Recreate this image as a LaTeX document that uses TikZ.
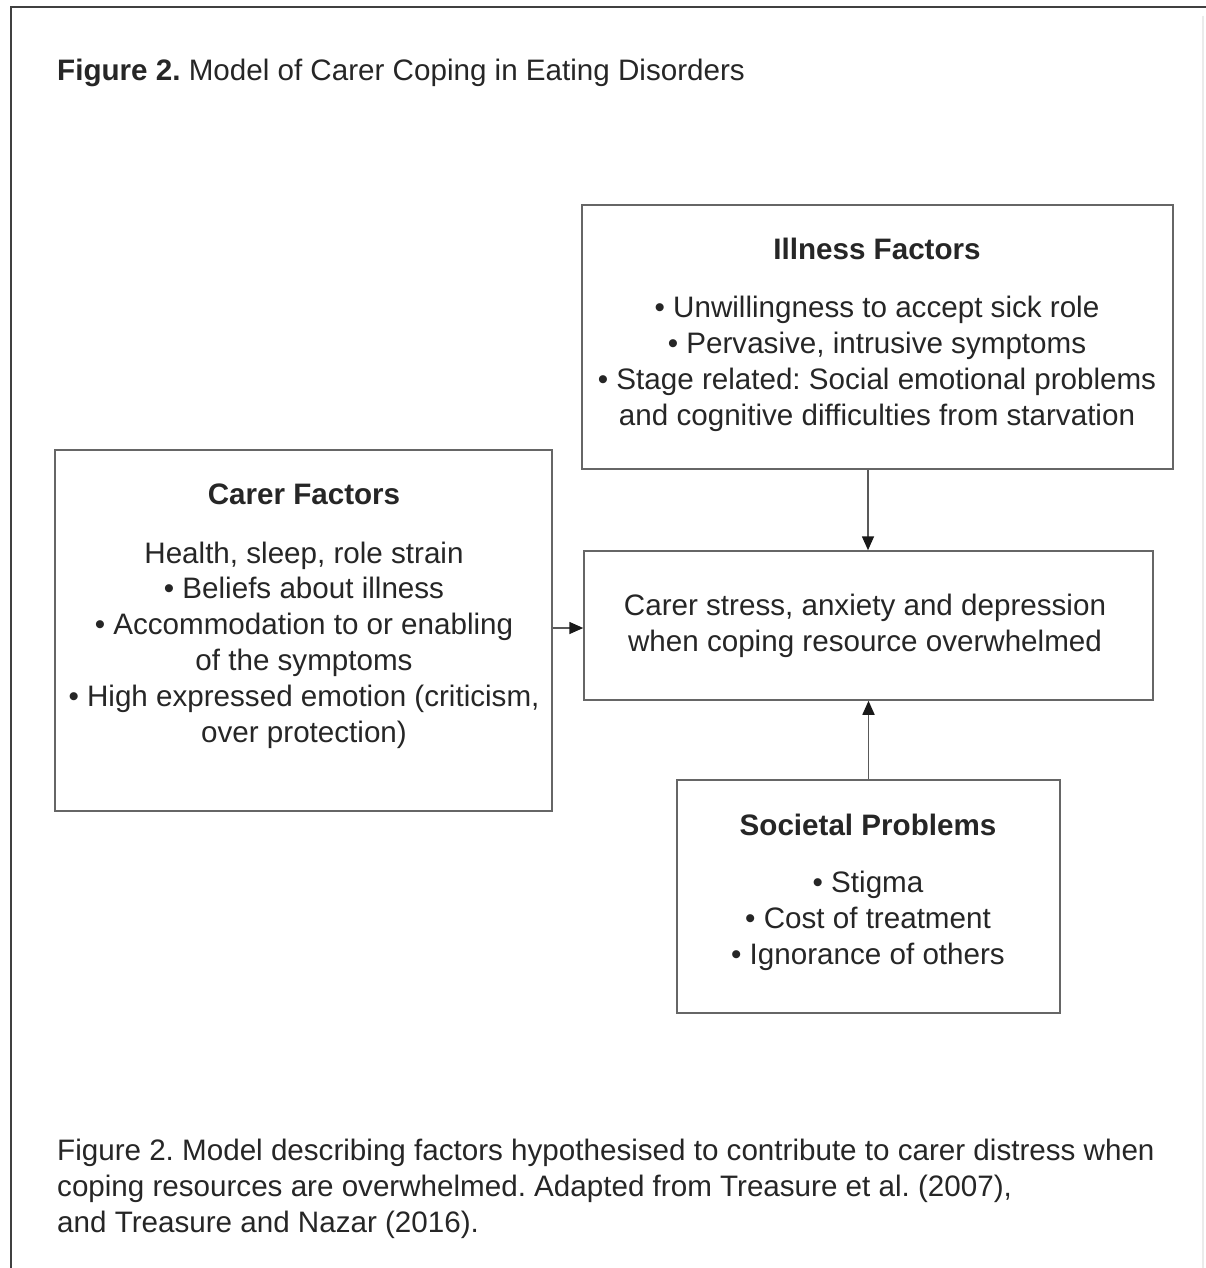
\documentclass[tikz,border=0pt]{standalone}
\usepackage{fontspec}
\setmainfont{Liberation Sans}
\usetikzlibrary{arrows.meta}
\frenchspacing
\begin{document}
\begin{tikzpicture}[x=1pt,y=-1pt,
  txt/.style={text=black!85, font=\fontsize{29.6}{35.8}\selectfont, inner sep=0pt},
  head/.style={txt, font=\fontsize{29.6}{35.8}\selectfont\bfseries},
  body/.style={txt, align=center},
  frame/.style={draw=black!60, line width=1.5pt},
  conn/.style={draw=black!65, line width=1.6pt,
    -{Triangle[length=14pt,width=12pt,color=black!90,fill=black!90]}}]
\useasboundingbox (0,0) rectangle (1206,1268);
\fill[white] (0,0) rectangle (1206,1268);
% page edge
\draw[black!75, line width=1.6pt] (11,1268) -- (11,7) -- (1206,7);
\draw[black!8, line width=1.2pt] (1203,16) -- (1203,1268);

% title
\node[txt, anchor=base west] (title) at (57,81) {\textbf{Figure 2.} Model of Carer Coping in Eating Disorders};

% boxes
\node[frame, minimum width=591pt, minimum height=264pt, inner sep=0pt] (illness) at (877.5,337) {};
\node[frame, minimum width=497pt, minimum height=361pt, inner sep=0pt] (carer) at (303.5,630.5) {};
\node[frame, minimum width=569pt, minimum height=149pt, inner sep=0pt] (centre) at (868.5,625.5) {};
\node[frame, minimum width=383pt, minimum height=233pt, inner sep=0pt] (society) at (868.5,896.5) {};

% illness factors
\node[head] (illH) at (877,249) {Illness Factors};
\node[body] (illB) at (877,364) {\textbullet\ Unwillingness to accept sick role\\
\textbullet\ Pervasive, intrusive symptoms\\
\textbullet\ Stage related: Social emotional problems\\
and cognitive difficulties from starvation};

% carer factors
\node[head] (carH) at (304,494) {Carer Factors};
\node[body] (carB) at (304,645) {Health, sleep, role strain\\
\textbullet\ Beliefs about illness\\
\textbullet\ Accommodation to or enabling\\
of the symptoms\\
\textbullet\ High expressed emotion (criticism,\\
over protection)};

% central outcome
\node[body] (cenB) at (865,626) {Carer stress, anxiety and depression\\
when coping resource overwhelmed};

% societal problems
\node[head] (socH) at (868,825) {Societal Problems};
\node[body] (socB) at (868,921) {\textbullet\ Stigma\\
\textbullet\ Cost of treatment\\
\textbullet\ Ignorance of others};

% connectors
\draw[conn] (carer.east |- 0,628) -- (centre.west |- 0,628);
\draw[conn] (illness.south -| 868,0) -- (centre.north -| 868,0);
\draw[conn] (society.north) -- (centre.south -| society.north);

% caption
\node[txt, anchor=north west, align=left] (caption) at (57,1139) {Figure 2. Model describing factors hypothesised to contribute to carer distress when\\
coping resources are overwhelmed. Adapted from Treasure et al. (2007),\\
and Treasure and Nazar (2016).};
\end{tikzpicture}
\end{document}
